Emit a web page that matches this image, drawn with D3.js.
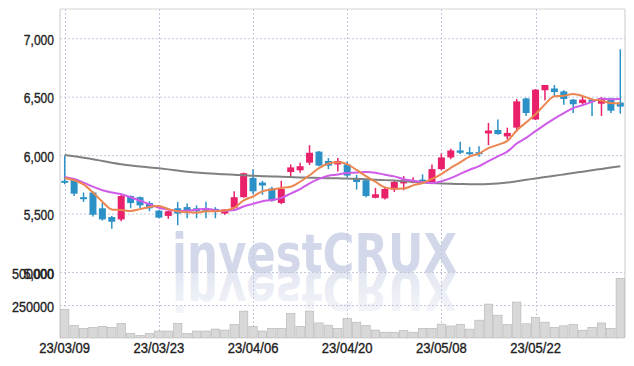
<!DOCTYPE html>
<html lang="ko">
<head>
<meta charset="UTF-8" />
<title>investCRUX chart</title>
<script src="https://cdn.jsdelivr.net/npm/d3@7"></script>
<style>
    body { margin: 0; background: #fff; }
    svg { display: block; font-family: "Liberation Sans", Arial, sans-serif; }
    .lbl { font-size: 14px; fill: #222; stroke: #222; stroke-width: 0.35px; }
    .grid { stroke: #c3c7db; stroke-width: 1; stroke-dasharray: 2,2; }
    .frame { stroke: #d4d4d4; stroke-width: 1.2; }
    .ma { fill: none; stroke-width: 2px; }
    .wm { font-family: "DejaVu Sans", sans-serif; font-weight: bold; font-size: 53px; }
</style>
</head>
<body>
<svg width="634" height="366"></svg>
<script>
// trading days, yy/mm/dd
const dates = ['23/03/09','23/03/10','23/03/13','23/03/14','23/03/15','23/03/16','23/03/17','23/03/20','23/03/21','23/03/22',
    '23/03/23','23/03/24','23/03/27','23/03/28','23/03/29','23/03/30','23/03/31','23/04/03','23/04/04','23/04/05',
    '23/04/06','23/04/07','23/04/10','23/04/11','23/04/12','23/04/13','23/04/14','23/04/17','23/04/18','23/04/19',
    '23/04/20','23/04/21','23/04/24','23/04/25','23/04/26','23/04/27','23/04/28','23/05/02','23/05/03','23/05/04',
    '23/05/08','23/05/09','23/05/10','23/05/11','23/05/12','23/05/15','23/05/16','23/05/17','23/05/18','23/05/19',
    '23/05/22','23/05/23','23/05/24','23/05/25','23/05/26','23/05/30','23/05/31','23/06/01','23/06/02','23/06/05'];

const open = [5780,5790,5640,5680,5545,5470,5450,5650,5640,5590,
    5525,5480,5545,5555,5545,5540,5540,5500,5550,5640,
    5805,5765,5715,5590,5855,5870,5935,6030,5950,5920,
    5920,5800,5785,5635,5630,5705,5765,5765,5790,5770,
    5880,5980,6040,6025,6025,6185,6215,6160,6235,6485,
    6305,6555,6570,6545,6475,6445,6475,6440,6485,6450];
const high = [5995,5800,5680,5690,5590,5480,5665,5655,5645,5605,
    5530,5525,5600,5585,5570,5600,5555,5540,5690,5850,
    5880,5780,5730,5780,5920,5935,6085,6035,5975,5975,
    5945,5830,5790,5720,5730,5785,5820,5810,5835,5920,
    6015,6055,6115,6070,6075,6275,6305,6235,6480,6490,
    6565,6600,6600,6555,6480,6500,6485,6495,6490,6905];
const low = [5750,5650,5600,5475,5440,5370,5435,5545,5545,5520,
    5460,5455,5400,5460,5460,5460,5460,5490,5545,5635,
    5665,5660,5600,5580,5820,5850,5915,5905,5880,5860,
    5810,5705,5640,5630,5620,5685,5700,5760,5760,5765,
    5870,5965,6010,6000,5985,6085,6175,6135,6200,6335,
    6300,6470,6500,6430,6360,6420,6335,6335,6360,6355];
const close = [5765,5670,5635,5490,5450,5430,5650,5590,5570,5545,
    5465,5520,5500,5530,5520,5525,5520,5535,5640,5845,
    5690,5740,5610,5710,5895,5905,6020,5910,5910,5950,
    5825,5770,5650,5665,5710,5770,5775,5785,5770,5880,
    5980,6040,6020,6015,6015,6210,6180,6190,6460,6360,
    6560,6600,6540,6480,6435,6475,6455,6485,6380,6415];
const volume = [218000,96000,73500,81000,88600,81000,111000,35600,20000,35600,
    53000,53000,111000,35600,53000,53000,68000,60000,104000,204000,
    88600,53000,73500,73500,187000,88600,204000,114000,97000,73500,
    149000,120000,96000,60000,44000,44000,58000,44000,73500,73500,
    105000,91000,104000,67000,135000,257000,173000,104000,272000,108000,
    157000,120000,81000,92000,104000,59000,81000,114000,73500,452000];

// moving averages as drawn (5, 10 and long period)
const ma5 = [5805,5785,5750,5680,5602,5535,5531,5522,5538,5557,
    5564,5538,5520,5512,5507,5519,5519,5526,5548,5613,
    5646,5690,5705,5719,5729,5772,5828,5888,5928,5939,
    5923,5873,5821,5772,5724,5713,5714,5741,5762,5796,
    5838,5891,5938,5987,6014,6060,6088,6122,6211,6280,
    6350,6434,6504,6508,6523,6506,6477,6466,6446,6442];
const ma10 = [5814,5795,5765,5730,5700,5680,5665,5640,5610,5580,
    5550,5535,5521,5525,5532,5542,5529,5523,5530,5560,
    5583,5605,5616,5634,5671,5709,5759,5797,5824,5834,
    5848,5851,5855,5850,5832,5818,5794,5781,5767,5760,
    5776,5803,5840,5875,5905,5949,5990,6030,6099,6147,
    6205,6261,6313,6360,6402,6428,6456,6485,6477,6483];
const maLong = [6000,5990,5978,5965,5950,5935,5922,5912,5903,5895,
    5887,5878,5868,5858,5851,5845,5840,5836,5832,5828,
    5823,5820,5817,5815,5812,5809,5807,5805,5803,5801,
    5800,5797,5793,5790,5786,5782,5778,5772,5767,5762,
    5758,5755,5753,5751,5750,5752,5757,5765,5777,5789,
    5800,5812,5823,5835,5847,5858,5870,5882,5894,5905];

const priceTicks = [5000, 5500, 6000, 6500, 7000];
const volumeTicks = [250000, 500000];
const dateTicks = ['23/03/09','23/03/23','23/04/06','23/04/20','23/05/08','23/05/22'];

const svg = d3.select('svg');
const plotL = 60, plotR = 625, plotT = 9, priceBottom = 272, volBottom = 338;

const x = d3.scaleBand().domain(d3.range(dates.length)).range([plotL, plotR]);
const cx = (i) => x(i) + x.bandwidth() / 2;
const yP = d3.scaleLinear().domain([5000, 7250]).range([priceBottom, plotT]);
const yV = d3.scaleLinear().domain([0, 500000]).range([volBottom, priceBottom]);

const UP = '#e8216a', DOWN = '#2b91c6';

// watermark + reflection
const defs = svg.append('defs');
const grad = defs.append('linearGradient').attr('id', 'refl').attr('x1', 0).attr('y1', 0).attr('x2', 0).attr('y2', 1);
grad.append('stop').attr('offset', 0).attr('stop-color', '#d4d9ea').attr('stop-opacity', 0.2);
grad.append('stop').attr('offset', 1).attr('stop-color', '#d4d9ea').attr('stop-opacity', 0.75);

const wm = svg.append('g');
wm.append('text').attr('class', 'wm').attr('x', 172).attr('y', priceBottom)
    .attr('fill', '#d2d7e9')
    .attr('textLength', 285).attr('lengthAdjust', 'spacingAndGlyphs')
    .text('investCRUX');
wm.append('text').attr('class', 'wm').attr('x', 172).attr('y', priceBottom)
    .attr('transform', `translate(0,${2 * priceBottom}) scale(1,-1)`)
    .attr('fill', 'url(#refl)')
    .attr('textLength', 285).attr('lengthAdjust', 'spacingAndGlyphs')
    .text('investCRUX');

// grid
const grid = svg.append('g');
grid.selectAll('.gh').data(priceTicks).enter().append('line').attr('class', 'grid')
    .attr('x1', plotL).attr('x2', plotR).attr('y1', (d) => yP(d) + 0.5).attr('y2', (d) => yP(d) + 0.5);
grid.selectAll('.gv').data(volumeTicks).enter().append('line').attr('class', 'grid')
    .attr('x1', plotL).attr('x2', plotR).attr('y1', (d) => yV(d) + 0.5).attr('y2', (d) => yV(d) + 0.5);
grid.selectAll('.gx').data(dateTicks).enter().append('line').attr('class', 'grid')
    .attr('x1', (d) => Math.round(cx(dates.indexOf(d))) + 0.5).attr('x2', (d) => Math.round(cx(dates.indexOf(d))) + 0.5)
    .attr('y1', plotT).attr('y2', volBottom);

// frame
svg.append('line').attr('class', 'frame').attr('x1', plotL).attr('x2', plotL).attr('y1', plotT).attr('y2', volBottom);
svg.append('line').attr('class', 'frame').attr('x1', plotR).attr('x2', plotR).attr('y1', plotT).attr('y2', volBottom);
svg.append('line').attr('class', 'frame').attr('x1', plotL).attr('x2', plotR).attr('y1', plotT).attr('y2', plotT);

// volume bars
const bw = x.bandwidth();
svg.append('g').selectAll('rect').data(volume).enter().append('rect')
    .attr('x', (d, i) => x(i) + 0.5).attr('width', bw - 1)
    .attr('y', (d) => yV(d)).attr('height', (d) => volBottom - yV(d))
    .attr('fill', '#d8d8d8').attr('stroke', '#b4b4b4').attr('stroke-width', 0.6);

// candles
const candles = svg.append('g').selectAll('g').data(dates).enter().append('g');
const col = (i) => (close[i] >= open[i] ? UP : DOWN);
candles.append('line')
    .attr('x1', (d, i) => cx(i)).attr('x2', (d, i) => cx(i))
    .attr('y1', (d, i) => yP(high[i])).attr('y2', (d, i) => yP(low[i]))
    .attr('stroke', (d, i) => col(i)).attr('stroke-width', 1.5);
candles.append('rect')
    .attr('x', (d, i) => cx(i) - 3.5).attr('width', 7)
    .attr('y', (d, i) => yP(Math.max(open[i], close[i])))
    .attr('height', (d, i) => Math.max(2, Math.abs(yP(open[i]) - yP(close[i]))))
    .attr('fill', (d, i) => col(i));

// moving average lines
const line = d3.line().x((d, i) => cx(i)).y((d) => yP(d)).curve(d3.curveMonotoneX);
svg.append('path').attr('class', 'ma').attr('d', line(maLong)).attr('stroke', '#808080');
svg.append('path').attr('class', 'ma').attr('d', line(ma10)).attr('stroke', '#cf5be9');
svg.append('path').attr('class', 'ma').attr('d', line(ma5)).attr('stroke', '#ec8651');

// labels
const squeeze = (sel, k) => sel.each(function () {
    const w = this.getComputedTextLength();
    d3.select(this).attr('textLength', w * k).attr('lengthAdjust', 'spacingAndGlyphs');
});
const fmt = d3.format(',');
svg.append('g').selectAll('text').data(priceTicks).enter().append('text').attr('class', 'lbl')
    .attr('x', 54).attr('y', (d) => yP(d) + 6.5).attr('text-anchor', 'end')
    .text((d) => fmt(d)).call(squeeze, 0.86);
svg.append('g').selectAll('text').data(volumeTicks).enter().append('text').attr('class', 'lbl')
    .attr('x', 54).attr('y', (d) => yV(d) + 6.5).attr('text-anchor', 'end')
    .text((d) => d).call(squeeze, 0.9);
svg.append('g').selectAll('text').data(dateTicks).enter().append('text').attr('class', 'lbl')
    .attr('x', (d) => cx(dates.indexOf(d))).attr('y', 353).attr('text-anchor', 'middle')
    .text((d) => d).call(squeeze, 0.93);
</script>
</body>
</html>
